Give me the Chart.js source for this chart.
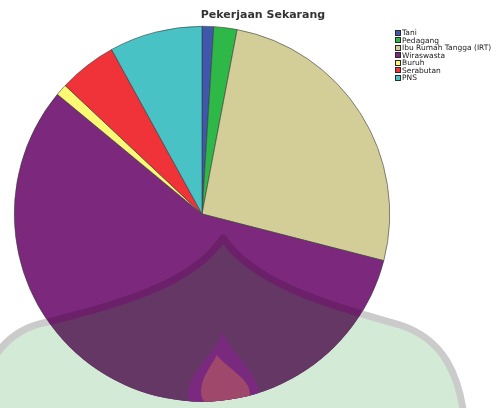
<!DOCTYPE html>
<html>
<head>
<meta charset="utf-8">
<script src="https://cdn.jsdelivr.net/npm/chart.js@4.4.1/dist/chart.umd.min.js"></script>
<style>
  body { margin: 0; background: #fff; }
  .wrap { position: relative; width: 500px; height: 408px; overflow: hidden; }
  .title {
    position: absolute; left: 0; top: 8px; width: 526px;
    text-align: center; line-height: 13px;
    font: bold 11px "DejaVu Sans", sans-serif; color: #333;
  }
  .legend { position: absolute; left: 395px; top: 29px; }
  .legend__item {
    position: absolute; left: 0; height: 7.5px; white-space: nowrap;
    font: 7.5px/7.5px "DejaVu Sans", sans-serif; color: #222;
  }
  .legend__box {
    position: absolute; left: 0; top: 0.5px; width: 6px; height: 6px;
    box-sizing: border-box; border: 1px solid #2a2a2a;
  }
  .legend__text { position: absolute; left: 7px; top: 0; }
</style>
</head>
<body>
<div class="wrap">
  <canvas id="pie" width="500" height="408"></canvas>
  <div class="title">Pekerjaan Sekarang</div>
  <div class="legend"></div>
</div>

<script>
// Data

const jobs = ['Tani', 'Pedagang', 'Ibu Rumah Tangga (IRT)', 'Wiraswasta', 'Buruh', 'Serabutan', 'PNS'];
const counts = [1, 2, 26, 57, 1, 5, 8];
const colors = ['#3e58ac', '#2eb848', '#d3ce97', '#7c287d', '#fbf873', '#ef3338', '#48c2c5'];

// Logo mark laid over the lower half of the chart

function domePath() {
  const p = new Path2D();
  p.moveTo(-30, 440);
  p.bezierCurveTo(-24, 372, 0, 330, 48, 322);
  p.bezierCurveTo(118, 304, 192, 285, 223, 238);
  p.bezierCurveTo(255, 285, 330, 305, 400, 325);
  p.bezierCurveTo(440, 338, 463, 370, 466, 440);
  p.closePath();
  return p;
}

function flamePath() {
  const p = new Path2D();
  p.moveTo(223, 332);
  p.bezierCurveTo(229, 352, 256, 370, 259, 392);
  p.bezierCurveTo(260, 410, 240, 418, 223, 418);
  p.bezierCurveTo(206, 418, 187, 410, 188, 392);
  p.bezierCurveTo(190, 370, 217, 352, 223, 332);
  return p;
}

function flameCore() {
  const p = new Path2D();
  p.moveTo(217, 355);
  p.bezierCurveTo(226, 368, 250, 378, 250, 394);
  p.bezierCurveTo(250, 406, 238, 410, 226, 410);
  p.bezierCurveTo(212, 410, 201, 404, 201, 392);
  p.bezierCurveTo(201, 378, 210, 368, 217, 355);
  return p;
}

const logoMark = {
  id: 'logoMark',
  afterDraw(chart) {
    const {ctx, width, height} = chart;
    const arc = chart.getDatasetMeta(0).data[0];
    const dome = domePath();

    ctx.save();
    ctx.lineWidth = 7;
    ctx.lineJoin = 'round';

    // outside the pie
    ctx.save();
    ctx.beginPath();
    ctx.rect(0, 0, width, height);
    ctx.arc(arc.x, arc.y, arc.outerRadius, 0, Math.PI * 2);
    ctx.clip('evenodd');
    ctx.fillStyle = '#d3ebd6';
    ctx.fill(dome);
    ctx.strokeStyle = '#cbcbcb';
    ctx.stroke(dome);
    ctx.restore();

    // over the pie
    ctx.save();
    ctx.beginPath();
    ctx.arc(arc.x, arc.y, arc.outerRadius, 0, Math.PI * 2);
    ctx.clip();
    ctx.fillStyle = '#653765';
    ctx.fill(dome);
    ctx.fillStyle = '#7a2a7e';
    ctx.fill(flamePath());
    ctx.fillStyle = '#a0486c';
    ctx.fill(flameCore());
    ctx.strokeStyle = '#6c2069';
    ctx.stroke(dome);
    ctx.restore();

    ctx.restore();
  }
};

// Chart

const ctx = document.getElementById('pie').getContext('2d');

const chart = new Chart(ctx, {
  type: 'pie',
  data: {
    labels: jobs,
    datasets: [{
      data: counts,
      backgroundColor: colors,
      borderColor: '#3a3a3a',
      borderWidth: 0.6,
    }]
  },
  options: {
    responsive: false,
    animation: false,
    devicePixelRatio: 1,
    layout: {
      padding: {top: 26, bottom: 6, left: 14, right: 110}
    },
    plugins: {
      legend: {display: false},
      title: {display: false},
      tooltip: {enabled: false},
    }
  },
  plugins: [logoMark]
});

// Legend

const legend = document.querySelector('.legend');

chart.data.labels.forEach(function(label, i) {
  const item = document.createElement('div');
  item.classList.add('legend__item');
  item.style.top = (i * 7.5) + 'px';

  const box = document.createElement('span');
  box.classList.add('legend__box');
  box.style.background = chart.data.datasets[0].backgroundColor[i];

  const text = document.createElement('span');
  text.classList.add('legend__text');
  text.textContent = label;

  item.appendChild(box);
  item.appendChild(text);
  legend.appendChild(item);
});
</script>
</body>
</html>
